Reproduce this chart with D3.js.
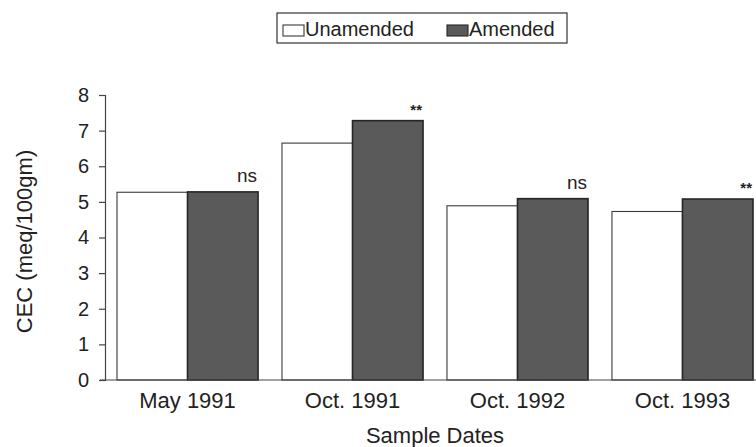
<!DOCTYPE html>
<html>
<head>
<meta charset="utf-8">
<script src="https://cdn.jsdelivr.net/npm/d3@7/dist/d3.min.js"></script>
<style>
  html, body { margin: 0; padding: 0; background: #fff; }
  svg { display: block; font-family: "Liberation Sans", Arial, Helvetica, sans-serif; }
</style>
</head>
<body>
<svg id="chart" width="756" height="447"></svg>
<script>
// CEC by sampling date, unamended vs amended soil
const categories = ["May 1991", "Oct. 1991", "Oct. 1992", "Oct. 1993"];
const seriesNames = ["Unamended", "Amended"];
const unamended = [5.27, 6.65, 4.89, 4.73];
const amended = [5.28, 7.28, 5.09, 5.08];
const significance = ["ns", "**", "ns", "**"];
const yTicks = [0, 1, 2, 3, 4, 5, 6, 7, 8];

const svg = d3.select("#chart");
const W = 756, H = 447;

const x0 = d3.scaleBand().domain(categories).range([105, 765])
  .paddingInner(0.145).paddingOuter(0.0727);
const x1 = d3.scaleBand().domain(seriesNames).range([0, x0.bandwidth()]).padding(0);
const y = d3.scaleLinear().domain([0, 8]).range([380, 95]);

const fills = { Unamended: "#ffffff", Amended: "#5a5a5a" };
const strokes = { Unamended: "#3a3a3a", Amended: "#262626" };

const rows = categories.map((c, i) => ({
  cat: c,
  values: [
    { key: "Unamended", value: unamended[i] },
    { key: "Amended", value: amended[i] }
  ],
  sig: significance[i]
}));

// bars
const groups = svg.append("g").selectAll("g").data(rows).join("g")
  .attr("transform", d => `translate(${x0(d.cat)},0)`);

groups.selectAll("rect").data(d => d.values).join("rect")
  .attr("x", d => x1(d.key))
  .attr("y", d => y(d.value))
  .attr("width", x1.bandwidth())
  .attr("height", d => y(0) - y(d.value))
  .attr("fill", d => fills[d.key])
  .attr("stroke", d => strokes[d.key])
  .attr("stroke-width", d => d.key === "Amended" ? 1.6 : 1.1);

// significance marks above the amended bars
groups.append("text")
  .attr("x", x1("Amended") + x1.bandwidth() - 1)
  .attr("y", d => {
    const top = y(d.values[1].value);
    return d.sig === "ns" ? top - 10 : top - 6;
  })
  .attr("text-anchor", "end")
  .attr("font-size", d => d.sig === "ns" ? 19 : 15)
  .attr("font-weight", d => d.sig === "ns" ? "normal" : "bold")
  .attr("fill", "#222")
  .text(d => d.sig);

// y axis
const yAxis = d3.axisLeft(y).tickValues(yTicks).tickSize(6).tickPadding(10)
  .tickFormat(d3.format("d"));
const gy = svg.append("g").attr("transform", "translate(105,0)").call(yAxis);
gy.select(".domain").attr("stroke", "#444").attr("stroke-width", 1.2);
gy.selectAll(".tick line").attr("stroke", "#444").attr("stroke-width", 1.2);
gy.selectAll(".tick text").attr("font-size", 20).attr("fill", "#222")
  .attr("font-family", "Liberation Sans, Arial, sans-serif");

// x axis baseline and labels
const xAxis = d3.axisBottom(x0).tickSize(0).tickPadding(12);
const gx = svg.append("g").attr("transform", `translate(0,${y(0)})`).call(xAxis);
gx.select(".domain").attr("d", `M100,0H${W}`).attr("stroke", "#444").attr("stroke-width", 1.2);
gx.selectAll(".tick text").attr("font-size", 22).attr("fill", "#222")
  .attr("font-family", "Liberation Sans, Arial, sans-serif");

// axis titles
svg.append("text")
  .attr("x", (x0.range()[0] + x0.range()[1]) / 2)
  .attr("y", 443)
  .attr("text-anchor", "middle")
  .attr("font-size", 22)
  .attr("fill", "#222")
  .text("Sample Dates");

svg.append("text")
  .attr("transform", `translate(32,${(y(0) + y(8)) / 2 + 4}) rotate(-90)`)
  .attr("text-anchor", "middle")
  .attr("font-size", 22)
  .attr("fill", "#222")
  .text("CEC (meq/100gm)");

// legend
const legend = svg.append("g");
legend.append("rect")
  .attr("x", 277).attr("y", 13).attr("width", 290).attr("height", 30)
  .attr("fill", "#fff").attr("stroke", "#333").attr("stroke-width", 1.2);
const legendItems = [
  { key: "Unamended", sx: 283, tx: 305 },
  { key: "Amended", sx: 447, tx: 469 }
];
legend.selectAll("rect.sw").data(legendItems).join("rect")
  .attr("class", "sw")
  .attr("x", d => d.sx).attr("y", 25).attr("width", 21).attr("height", 11)
  .attr("fill", d => fills[d.key]).attr("stroke", d => strokes[d.key]).attr("stroke-width", 1.1);
legend.selectAll("text").data(legendItems).join("text")
  .attr("x", d => d.tx).attr("y", 36)
  .attr("font-size", 20).attr("fill", "#222")
  .text(d => d.key);
</script>
</body>
</html>
